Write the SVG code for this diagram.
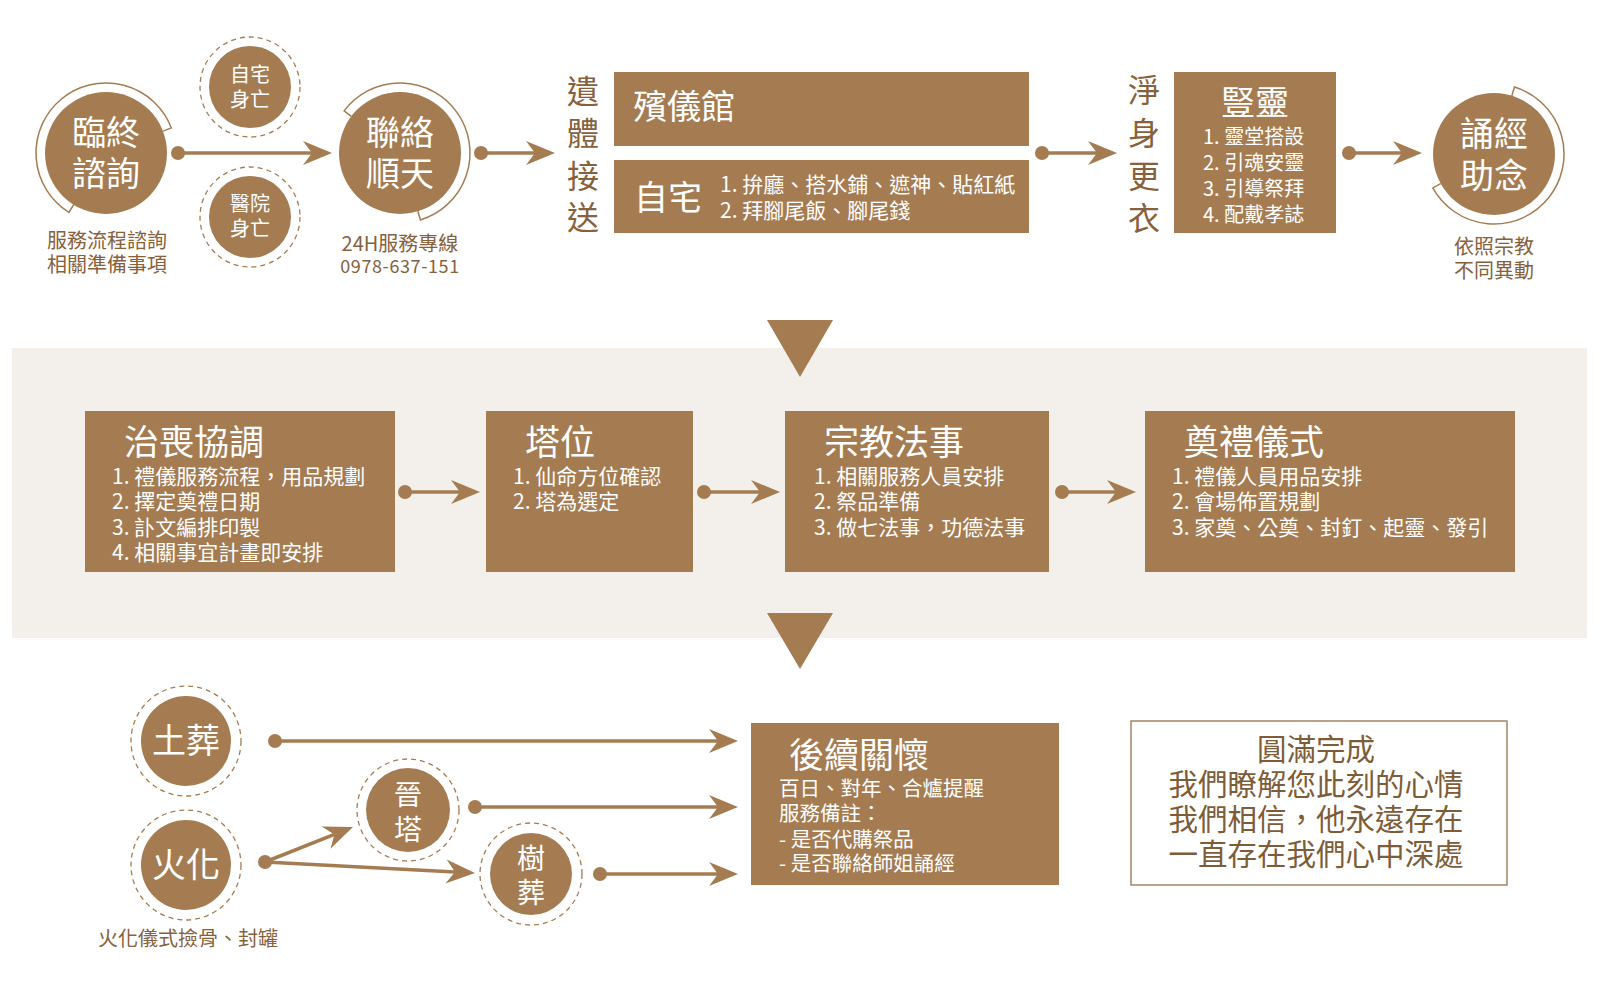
<svg xmlns="http://www.w3.org/2000/svg" xmlns:xlink="http://www.w3.org/1999/xlink" width="1600" height="981" viewBox="0 0 1600 981">
<style>
text{font-family:"Noto Sans CJK TC","Noto Sans CJK SC",sans-serif;dominant-baseline:central}
.fill{fill:#A57C52}
.w{fill:#ffffff}
.cap{fill:#86613C}
.mid{text-anchor:middle}
.ring{fill:none;stroke:#A57C52;stroke-width:1.5}
.dash{fill:none;stroke:#A57C52;stroke-width:1.3;stroke-dasharray:5 4}
.ln{stroke:#A57C52;stroke-width:3.5;fill:none}
.dot{fill:#A57C52}
.t34{font-size:34px}
.t35{font-size:35px}
.t32{font-size:32px}
.t21{font-size:21px}
.t20{font-size:20px}
</style>
<defs>
<path id="ah" d="M0,0 L-29,-12 L-20,0 L-29,12 Z" fill="#A57C52"/>
</defs>
<rect width="1600" height="981" fill="#ffffff"/>

<!-- background band -->
<rect id="band" x="12" y="348" width="1575" height="290" fill="#F3F0EB"/>
<polygon id="tri1" points="767,320 833,320 800,377" class="fill"/>
<polygon id="tri2" points="767,613 833,613 800,669" class="fill"/>

<!-- Top row -->
<g id="n-linzhong">
<circle cx="106" cy="153" r="61" class="fill"/>
<path class="ring" d="M162.95,131.14 L171.35,127.9 A70,70 0 1 0 68.91,212.36 L73.68,204.73"/>
<text x="106" y="130" class="w mid t34">臨終</text>
<text x="106" y="171" class="w mid t34">諮詢</text>
<text x="107" y="239" class="cap mid t20">服務流程諮詢</text>
<text x="107" y="263" class="cap mid t20">相關準備事項</text>
</g>
<g id="n-home">
<circle cx="250" cy="87" r="50" class="dash"/>
<circle cx="250" cy="87" r="41" class="fill"/>
<text x="250" y="73" class="w mid t20">自宅</text>
<text x="250" y="98" class="w mid t20">身亡</text>
</g>
<g id="n-hospital">
<circle cx="250" cy="217" r="50" class="dash"/>
<circle cx="250" cy="217" r="41" class="fill"/>
<text x="250" y="202" class="w mid t20">醫院</text>
<text x="250" y="227" class="w mid t20">身亡</text>
</g>
<g id="n-lianluo">
<circle cx="400" cy="153" r="61" class="fill"/>
<path class="ring" d="M351.29,116.29 L344.1,110.87 A70,70 0 1 1 420.47,219.94 L417.84,211.33"/>
<text x="400" y="130" class="w mid t34">聯絡</text>
<text x="400" y="171" class="w mid t34">順天</text>
<text x="400" y="242" class="cap mid t20">24H服務專線</text>
<text x="400" y="265" class="cap mid" font-size="18" letter-spacing="0.6">0978-637-151</text>
</g>
<g id="n-transfer">
<text x="583" y="89" class="cap mid t32">遺</text>
<text x="583" y="131" class="cap mid t32">體</text>
<text x="583" y="174" class="cap mid t32">接</text>
<text x="583" y="215" class="cap mid t32">送</text>
</g>
<g id="n-funeralhome">
<rect x="614" y="72" width="415" height="74" class="fill"/>
<text x="633" y="104" class="w t34">殯儀館</text>
</g>
<g id="n-home2">
<rect x="614" y="160" width="415" height="73" class="fill"/>
<text x="634" y="195" class="w t34">自宅</text>
<text x="720" y="183" class="w t21">1. 拚廳、搭水鋪、遮神、貼紅紙</text>
<text x="720" y="209" class="w t21">2. 拜腳尾飯、腳尾錢</text>
</g>
<g id="n-cleanse">
<text x="1144" y="88" class="cap mid t32">淨</text>
<text x="1144" y="131" class="cap mid t32">身</text>
<text x="1144" y="174" class="cap mid t32">更</text>
<text x="1144" y="216" class="cap mid t32">衣</text>
</g>
<g id="n-shuling">
<rect x="1174" y="72" width="162" height="161" class="fill"/>
<text x="1255" y="100" class="w mid t34">豎靈</text>
<text x="1203" y="135" class="w t20">1. 靈堂搭設</text>
<text x="1203" y="161" class="w t20">2. 引魂安靈</text>
<text x="1203" y="187" class="w t20">3. 引導祭拜</text>
<text x="1203" y="213" class="w t20">4. 配戴孝誌</text>
</g>
<g id="n-chanting">
<circle cx="1494" cy="154" r="61" class="fill"/>
<path class="ring" d="M1511.84,95.67 L1514.47,87.06 A70,70 0 1 1 1432.78,187.94 L1440.65,183.57"/>
<text x="1494" y="131" class="w mid t34">誦經</text>
<text x="1494" y="173" class="w mid t34">助念</text>
<text x="1494" y="245" class="cap mid t20">依照宗教</text>
<text x="1494" y="269" class="cap mid t20">不同異動</text>
</g>

<!-- Middle row -->
<g id="n-coord">
<rect x="85" y="411" width="310" height="161" class="fill"/>
<text x="124" y="439" class="w t35">治喪協調</text>
<text x="112" y="475" class="w t21">1. 禮儀服務流程，用品規劃</text>
<text x="112" y="500" class="w t21">2. 擇定奠禮日期</text>
<text x="112" y="526" class="w t21">3. 訃文編排印製</text>
<text x="112" y="551" class="w t21">4. 相關事宜計畫即安排</text>
</g>
<g id="n-tower">
<rect x="486" y="411" width="207" height="161" class="fill"/>
<text x="525" y="439" class="w t35">塔位</text>
<text x="513" y="475" class="w t21">1. 仙命方位確認</text>
<text x="513" y="500" class="w t21">2. 塔為選定</text>
</g>
<g id="n-religion">
<rect x="785" y="411" width="264" height="161" class="fill"/>
<text x="824" y="439" class="w t35">宗教法事</text>
<text x="814" y="475" class="w t21">1. 相關服務人員安排</text>
<text x="814" y="500" class="w t21">2. 祭品準備</text>
<text x="814" y="526" class="w t21">3. 做七法事，功德法事</text>
</g>
<g id="n-ceremony">
<rect x="1145" y="411" width="370" height="161" class="fill"/>
<text x="1184" y="439" class="w t35">奠禮儀式</text>
<text x="1172" y="475" class="w t21">1. 禮儀人員用品安排</text>
<text x="1172" y="500" class="w t21">2. 會場佈置規劃</text>
<text x="1172" y="526" class="w t21">3. 家奠、公奠、封釘、起靈、發引</text>
</g>

<!-- Bottom row -->
<g id="n-burial">
<circle cx="186" cy="741" r="55" class="dash"/>
<circle cx="186" cy="741" r="45" class="fill"/>
<text x="186" y="738" class="w mid t34">土葬</text>
</g>
<g id="n-cremation">
<circle cx="186" cy="865" r="55" class="dash"/>
<circle cx="186" cy="865" r="45" class="fill"/>
<text x="186" y="862" class="w mid t34">火化</text>
<text x="188" y="937" class="cap mid t20">火化儀式撿骨、封罐</text>
</g>
<g id="n-jinta">
<circle cx="408" cy="810" r="51" class="dash"/>
<circle cx="408" cy="810" r="42" class="fill"/>
<text x="408" y="793" class="w mid" font-size="28">晉</text>
<text x="408" y="828" class="w mid" font-size="28">塔</text>
</g>
<g id="n-tree">
<circle cx="531" cy="874" r="51" class="dash"/>
<circle cx="531" cy="874" r="41" class="fill"/>
<text x="531" y="857" class="w mid" font-size="28">樹</text>
<text x="531" y="891" class="w mid" font-size="28">葬</text>
</g>
<g id="n-aftercare">
<rect x="751" y="723" width="308" height="162" class="fill"/>
<text x="789" y="752" class="w t35">後續關懷</text>
<text x="779" y="787" class="w" font-size="20.5">百日、對年、合爐提醒</text>
<text x="779" y="812" class="w" font-size="20.5">服務備註：</text>
<text x="779" y="838" class="w" font-size="20.5">- 是否代購祭品</text>
<text x="779" y="862" class="w" font-size="20.5">- 是否聯絡師姐誦經</text>
</g>
<g id="n-complete">
<rect x="1131" y="721" width="376" height="164" fill="#ffffff" stroke="#A58462" stroke-width="1.5"/>
<text x="1316" y="747" class="mid" font-size="29.5" fill="#7E5C38">圓滿完成</text>
<text x="1316" y="782" class="mid" font-size="29.5" fill="#7E5C38">我們瞭解您此刻的心情</text>
<text x="1316" y="817" class="mid" font-size="29.5" fill="#7E5C38">我們相信，他永遠存在</text>
<text x="1316" y="852" class="mid" font-size="29.5" fill="#7E5C38">一直存在我們心中深處</text>
</g>

<!-- Connectors -->
<g id="connectors">
<circle cx="178" cy="153" r="7" class="dot"/><line x1="178" y1="153" x2="313" y2="153" class="ln"/><use href="#ah" xlink:href="#ah" transform="translate(332,153)"/>
<circle cx="481" cy="153" r="7" class="dot"/><line x1="481" y1="153" x2="536" y2="153" class="ln"/><use href="#ah" xlink:href="#ah" transform="translate(555,153)"/>
<circle cx="1042" cy="153" r="7" class="dot"/><line x1="1042" y1="153" x2="1098" y2="153" class="ln"/><use href="#ah" xlink:href="#ah" transform="translate(1117,153)"/>
<circle cx="1349" cy="153" r="7" class="dot"/><line x1="1349" y1="153" x2="1403" y2="153" class="ln"/><use href="#ah" xlink:href="#ah" transform="translate(1422,153)"/>

<circle cx="405" cy="492" r="7" class="dot"/><line x1="405" y1="492" x2="461" y2="492" class="ln"/><use href="#ah" xlink:href="#ah" transform="translate(480,492)"/>
<circle cx="704" cy="492" r="7" class="dot"/><line x1="704" y1="492" x2="761" y2="492" class="ln"/><use href="#ah" xlink:href="#ah" transform="translate(780,492)"/>
<circle cx="1062" cy="492" r="7" class="dot"/><line x1="1062" y1="492" x2="1117" y2="492" class="ln"/><use href="#ah" xlink:href="#ah" transform="translate(1136,492)"/>

<circle cx="275" cy="741" r="7" class="dot"/><line x1="275" y1="741" x2="719" y2="741" class="ln"/><use href="#ah" xlink:href="#ah" transform="translate(738,741)"/>
<circle cx="475" cy="807" r="7" class="dot"/><line x1="475" y1="807" x2="719" y2="807" class="ln"/><use href="#ah" xlink:href="#ah" transform="translate(738,807)"/>
<circle cx="600" cy="874" r="7" class="dot"/><line x1="600" y1="874" x2="719" y2="874" class="ln"/><use href="#ah" xlink:href="#ah" transform="translate(738,874)"/>

<circle cx="265" cy="862" r="7" class="dot"/>
<line x1="265" y1="862" x2="334.4" y2="834.4" class="ln"/><use href="#ah" xlink:href="#ah" transform="translate(353,827) rotate(-21.7)"/>
<line x1="265" y1="862" x2="455" y2="872" class="ln"/><use href="#ah" xlink:href="#ah" transform="translate(475,873) rotate(3)"/>
</g>
</svg>
